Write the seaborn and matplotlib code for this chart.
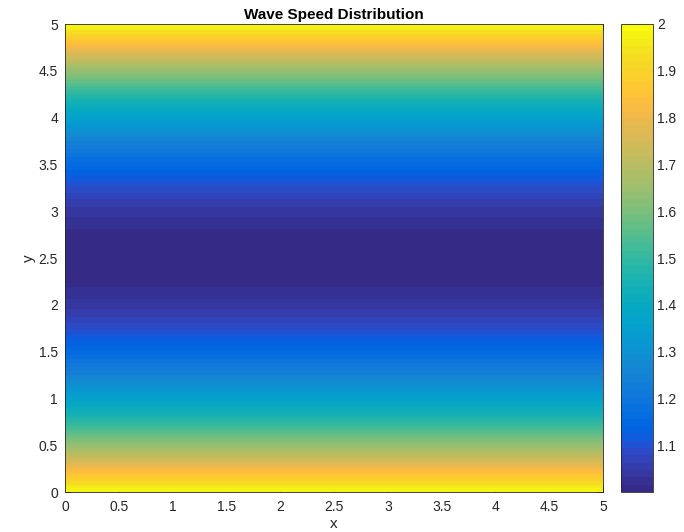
import numpy as np
import pandas as pd
import matplotlib
matplotlib.use("Agg")
import matplotlib.pyplot as plt
from matplotlib.colors import ListedColormap
import seaborn as sns

# ---- data (wave speed per horizontal row, bottom y=0 -> top y=5, 0.05 high rows) ----
wave_speed = [
    1.9801, 1.9409, 1.9025, 1.8649, 1.8281, 1.7921, 1.7569, 1.7225, 1.6889, 1.6561,
    1.6241, 1.5929, 1.5625, 1.5329, 1.5041, 1.4761, 1.4489, 1.4225, 1.3969, 1.3721,
    1.3481, 1.3249, 1.3025, 1.2809, 1.2601, 1.2401, 1.2209, 1.2025, 1.1849, 1.1681,
    1.1521, 1.1369, 1.1225, 1.1089, 1.0961, 1.0841, 1.0729, 1.0625, 1.0529, 1.0441,
    1.0361, 1.0289, 1.0225, 1.0169, 1.0121, 1.0081, 1.0049, 1.0025, 1.0009, 1.0001,
    1.0001, 1.0009, 1.0025, 1.0049, 1.0081, 1.0121, 1.0169, 1.0225, 1.0289, 1.0361,
    1.0441, 1.0529, 1.0625, 1.0729, 1.0841, 1.0961, 1.1089, 1.1225, 1.1369, 1.1521,
    1.1681, 1.1849, 1.2025, 1.2209, 1.2401, 1.2601, 1.2809, 1.3025, 1.3249, 1.3481,
    1.3721, 1.3969, 1.4225, 1.4489, 1.4761, 1.5041, 1.5329, 1.5625, 1.5929, 1.6241,
    1.6561, 1.6889, 1.7225, 1.7569, 1.7921, 1.8281, 1.8649, 1.9025, 1.9409, 1.9801,
]
x_range = [0, 5]
y_range = [0, 5]
x_ticks = [0, 0.5, 1, 1.5, 2, 2.5, 3, 3.5, 4, 4.5, 5]
x_tick_labels = ["0", "0.5", "1", "1.5", "2", "2.5", "3", "3.5", "4", "4.5", "5"]
y_ticks = [0, 0.5, 1, 1.5, 2, 2.5, 3, 3.5, 4, 4.5, 5]
y_tick_labels = ["0", "0.5", "1", "1.5", "2", "2.5", "3", "3.5", "4", "4.5", "5"]
cbar_ticks = [1.1, 1.2, 1.3, 1.4, 1.5, 1.6, 1.7, 1.8, 1.9, 2.0]
cbar_tick_labels = ["1.1", "1.2", "1.3", "1.4", "1.5", "1.6", "1.7", "1.8", "1.9", "2"]
c_min, c_max = 1.0001, 2.0

# ---- parula (64 colours) ----
parula = [
    [0.2081, 0.1663, 0.5292], [0.2116, 0.1898, 0.5777], [0.2123, 0.2138, 0.6270], [0.2081, 0.2386, 0.6771],
    [0.1959, 0.2645, 0.7279], [0.1707, 0.2919, 0.7792], [0.1253, 0.3242, 0.8303], [0.0591, 0.3598, 0.8683],
    [0.0117, 0.3875, 0.8820], [0.0060, 0.4086, 0.8828], [0.0165, 0.4266, 0.8786], [0.0329, 0.4430, 0.8720],
    [0.0498, 0.4586, 0.8641], [0.0629, 0.4737, 0.8554], [0.0723, 0.4887, 0.8467], [0.0779, 0.5040, 0.8384],
    [0.0793, 0.5200, 0.8312], [0.0749, 0.5375, 0.8263], [0.0641, 0.5570, 0.8240], [0.0488, 0.5772, 0.8228],
    [0.0343, 0.5966, 0.8199], [0.0265, 0.6137, 0.8135], [0.0239, 0.6287, 0.8038], [0.0231, 0.6418, 0.7913],
    [0.0228, 0.6535, 0.7768], [0.0267, 0.6642, 0.7607], [0.0384, 0.6743, 0.7436], [0.0590, 0.6838, 0.7254],
    [0.0843, 0.6928, 0.7062], [0.1133, 0.7015, 0.6859], [0.1453, 0.7098, 0.6646], [0.1801, 0.7177, 0.6424],
    [0.2178, 0.7250, 0.6193], [0.2586, 0.7317, 0.5954], [0.3022, 0.7376, 0.5712], [0.3482, 0.7424, 0.5473],
    [0.3953, 0.7459, 0.5244], [0.4420, 0.7481, 0.5033], [0.4871, 0.7491, 0.4840], [0.5300, 0.7491, 0.4661],
    [0.5709, 0.7485, 0.4494], [0.6099, 0.7473, 0.4337], [0.6473, 0.7456, 0.4188], [0.6834, 0.7435, 0.4044],
    [0.7184, 0.7411, 0.3905], [0.7525, 0.7384, 0.3768], [0.7858, 0.7356, 0.3633], [0.8185, 0.7327, 0.3498],
    [0.8507, 0.7299, 0.3360], [0.8824, 0.7274, 0.3217], [0.9139, 0.7258, 0.3063], [0.9450, 0.7261, 0.2886],
    [0.9739, 0.7314, 0.2666], [0.9938, 0.7455, 0.2403], [0.9990, 0.7653, 0.2164], [0.9955, 0.7861, 0.1967],
    [0.9880, 0.8066, 0.1794], [0.9789, 0.8271, 0.1633], [0.9697, 0.8481, 0.1475], [0.9626, 0.8705, 0.1309],
    [0.9589, 0.8949, 0.1132], [0.9598, 0.9218, 0.0948], [0.9661, 0.9514, 0.0755], [0.9763, 0.9831, 0.0538],
]
cmap = ListedColormap(parula, name="parula")

sns.set_theme(style="white")
plt.rcParams["font.family"] = ["Liberation Sans", "DejaVu Sans"]
ink = "#262626"

fig = plt.figure(figsize=(6.84, 5.32), dpi=100)
ax = fig.add_axes([65 / 684, 1 - 492 / 532, (603 - 65) / 684, (492 - 24) / 532])
cax = fig.add_axes([621 / 684, 1 - 492 / 532, (653 - 621) / 684, (492 - 24) / 532])

nrows = len(wave_speed)
df = pd.DataFrame({"c": wave_speed})
sns.heatmap(df, ax=ax, cbar_ax=cax, cmap=cmap, vmin=c_min, vmax=c_max,
            xticklabels=False, yticklabels=False, rasterized=True)

# smooth (interpolated) shading of the same field, like MATLAB 'shading interp'
ax.imshow(np.array(wave_speed)[:, None], cmap=cmap, vmin=c_min, vmax=c_max,
          origin="lower", extent=(0, 1, 0, nrows), aspect="auto",
          interpolation="bilinear", interpolation_stage="data", zorder=3)

# map data coordinates to heatmap cell coordinates
ax.set_xlim(0, 1)
ax.set_ylim(0, nrows)
sx = 1 / (x_range[1] - x_range[0])
sy = nrows / (y_range[1] - y_range[0])
ax.set_xticks([(t - x_range[0]) * sx for t in x_ticks])
ax.set_xticklabels(x_tick_labels)
ax.set_yticks([(t - y_range[0]) * sy for t in y_ticks])
ax.set_yticklabels(y_tick_labels, rotation=0)
ax.tick_params(direction="in", length=4, width=0.6, colors=ink, labelsize=10,
               top=True, right=True, bottom=True, left=True, pad=5)
ax.tick_params(axis="x", pad=6)
ax.set_axisbelow(True)
for s in ax.spines.values():
    s.set_visible(True)
    s.set_color(ink)
    s.set_linewidth(0.6)
    s.set_zorder(5)
ax.set_xlabel("x", fontsize=11, color=ink, labelpad=2)
ax.set_ylabel("y", fontsize=11, color=ink, labelpad=2)
ax.set_title("Wave Speed Distribution", fontsize=11, fontweight="bold", color="black", pad=3.5)

cb = ax.collections[0].colorbar
cb.set_ticks(cbar_ticks)
cb.set_ticklabels(cbar_tick_labels)
cb.outline.set_visible(True)
cb.outline.set_edgecolor(ink)
cb.outline.set_linewidth(0.6)
cax.tick_params(direction="in", length=4, width=0.6, colors=ink, labelsize=10, right=True, pad=3)

fig.savefig("out.png", dpi=100)
